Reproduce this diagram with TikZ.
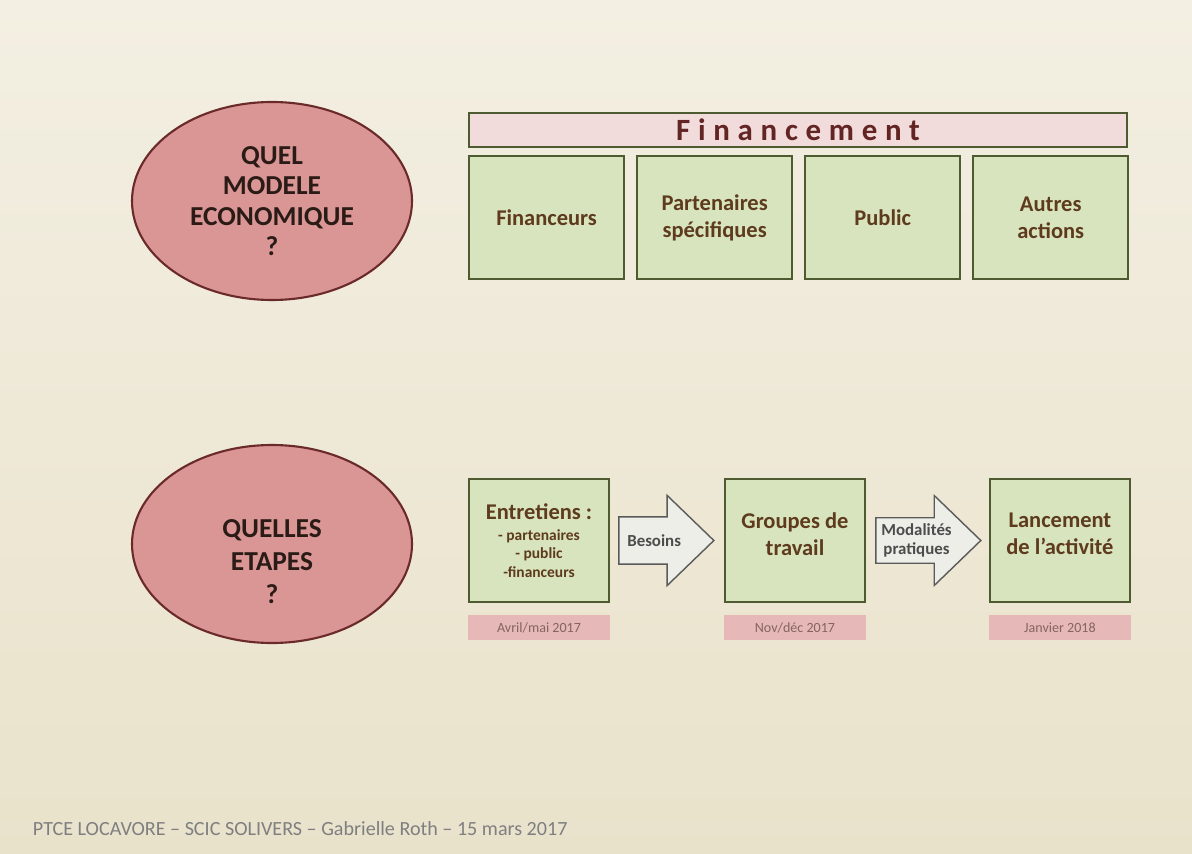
\documentclass[tikz,border=0pt]{standalone}
\usepackage{fontspec}
\setmainfont{Carlito}
\usetikzlibrary{positioning, shapes.geometric, shapes.arrows}

\definecolor{slidetop}{HTML}{F3EFE2}
\definecolor{slidebot}{HTML}{E9E2CB}
\definecolor{askfill}{HTML}{D99694}
\definecolor{askline}{HTML}{6B2A2A}
\definecolor{asktext}{HTML}{2B1B17}
\definecolor{boxfill}{HTML}{D7E4BD}
\definecolor{boxline}{HTML}{4E5A30}
\definecolor{boxtext}{HTML}{5E3A1E}
\definecolor{barfill}{HTML}{F2DCDB}
\definecolor{bartext}{HTML}{632523}
\definecolor{datefill}{HTML}{E6B9B8}
\definecolor{datetext}{HTML}{85655D}
\definecolor{arrowfill}{HTML}{EEEEE8}
\definecolor{arrowline}{HTML}{5A5A5A}
\definecolor{foottext}{HTML}{7F7F7F}

\begin{document}
\begin{tikzpicture}[
      ask/.style={ellipse, draw=askline, line width=1.5pt, fill=askfill,
        minimum width=7cm, minimum height=4.95cm, align=center, text=asktext,
        font=\bfseries\fontsize{19.5}{21.5}\selectfont},
      asklabel/.style={align=center, text=asktext, font=\bfseries\fontsize{19.5}{23.5}\selectfont},
      catbox/.style={draw=boxline, line width=1.6pt, fill=boxfill,
        minimum width=3.87cm, minimum height=3.07cm, align=center, text=boxtext,
        font=\bfseries\fontsize{16}{19}\selectfont},
      stagebox/.style={catbox, minimum width=3.5cm},
      stagetext/.style={align=center, text=boxtext, font=\bfseries\fontsize{16}{19}\selectfont},
      datebar/.style={fill=datefill, minimum width=3.55cm, minimum height=0.625cm,
        text=datetext, font=\fontsize{10}{12}\selectfont},
      flow/.style={single arrow, draw=arrowline, line width=1pt, fill=arrowfill,
        single arrow head extend=0.54cm, single arrow tip angle=88, minimum width=2.25cm,
        align=center, text=black!70, font=\bfseries\fontsize{12}{13.5}\selectfont}
    ]

    % Slide background
    \shade[top color=slidetop, bottom color=slidebot] (0,0) rectangle (29.8,21.325);
    \useasboundingbox (0,0) rectangle (29.8,21.325);

    % Questions
    \node[ask] (modele) at (6.8,16.3) {QUEL\\MODELE\\ECONOMIQUE\\?};
    \node[ask] (etapes) at (6.8,7.725) {};
    \node[asklabel] (etapestxt) at ([yshift=-0.45cm]etapes.center) {QUELLES\\ETAPES\\?};

    % Financement
    \node[draw=boxline, line width=1.6pt, fill=barfill, minimum width=16.44cm,
      minimum height=0.85cm, text=bartext, font=\bfseries\fontsize{22}{24}\selectfont]
      (financement) at (19.95,18.075) {\addfontfeature{LetterSpace=25}Financement};
    \node[catbox, below=0.175cm of financement.south west, anchor=north west] (financeurs) {Financeurs};
    \node[catbox, right=0.275cm of financeurs] (partenaires) {Partenaires\\spécifiques};
    \node[catbox, right=0.275cm of partenaires] (public) {Public};
    \node[catbox, right=0.275cm of public] (autres) {Autres\\actions};

    % Etapes
    \node[stagebox] (entretiens) at (13.475,7.8125)
      {Entretiens :\\[-4pt]
       {\fontsize{11}{13}\selectfont - partenaires}\\[-6pt]
       {\fontsize{11}{13}\selectfont - public}\\[-6pt]
       {\fontsize{11}{13}\selectfont -financeurs}};
    \node[flow, inner ysep=12pt, minimum height=2.375cm, right=0.2cm of entretiens] (besoins) {Besoins};
    \node[stagebox, right=0.225cm of besoins] (groupes) {};
    \node[flow, minimum height=2.625cm, right=0.225cm of groupes] (modalites) {Modalités\\pratiques};
    \node[stagebox, right=0.175cm of modalites] (lancement) {};
    \node[stagetext, below=0.75cm of groupes.north] (groupestxt) {Groupes de\\travail};
    \node[stagetext, below=0.75cm of lancement.north] (lancementtxt) {Lancement\\de l’activité};

    % Dates
    \node[datebar, below=0.3cm of entretiens] (avril) {Avril/mai 2017};
    \node[datebar, below=0.3cm of groupes] (novembre) {Nov/déc 2017};
    \node[datebar, below=0.3cm of lancement] (janvier) {Janvier 2018};

    % Footer
    \node[anchor=west, text=foottext, font=\fontsize{14.3}{16}\selectfont] (footer) at (0.7,0.6)
      {PTCE LOCAVORE – SCIC SOLIVERS – Gabrielle Roth – 15 mars 2017};

  \end{tikzpicture}
\end{document}
